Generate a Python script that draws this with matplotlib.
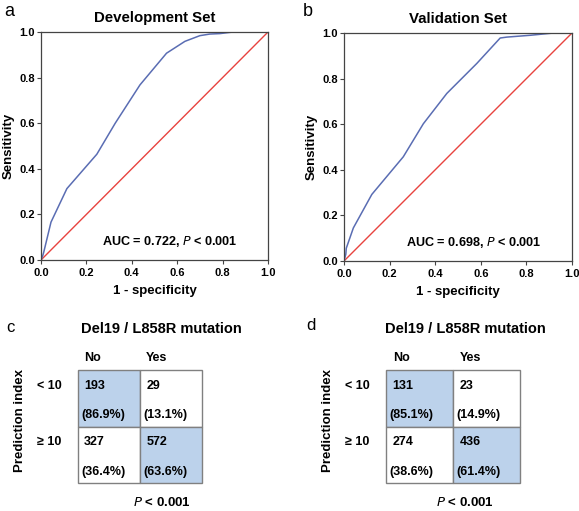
import matplotlib
matplotlib.use("Agg")
import matplotlib.pyplot as plt
import numpy as np

plt.rcParams['font.family'] = ['Liberation Sans', 'DejaVu Sans']

# ROC data (1 - specificity, sensitivity)
dev_fpr = [0.0, 0.008, 0.012, 0.044, 0.114, 0.246, 0.327, 0.436, 0.553, 0.634, 0.70, 0.744, 0.788, 0.846, 1.0]
dev_tpr = [0.0, 0.02, 0.034, 0.166, 0.313, 0.464, 0.600, 0.768, 0.907, 0.959, 0.984, 0.991, 0.993, 1.0, 1.0]
val_fpr = [0.0, 0.008, 0.010, 0.041, 0.122, 0.260, 0.348, 0.451, 0.583, 0.685, 0.714, 0.817, 0.919, 1.0]
val_tpr = [0.0, 0.03, 0.056, 0.145, 0.292, 0.457, 0.602, 0.735, 0.867, 0.978, 0.982, 0.990, 1.0, 1.0]
roc_titles = ["Development Set", "Validation Set"]
auc_texts = ["AUC = 0.722, $\\bf{\\it{P}}$ < 0.001", "AUC = 0.698, $\\bf{\\it{P}}$ < 0.001"]
ticks = [0.0, 0.2, 0.4, 0.6, 0.8, 1.0]
tick_labels = ["0.0", "0.2", "0.4", "0.6", "0.8", "1.0"]

# Contingency tables
col_labels = ["No", "Yes"]
row_labels = ["< 10", "\u2265 10"]
dev_counts = [[193, 29], [327, 572]]
dev_pcts = ["(86.9%)", "(13.1%)", "(36.4%)", "(63.6%)"]
val_counts = [[131, 23], [274, 436]]
val_pcts = ["(85.1%)", "(14.9%)", "(38.6%)", "(61.4%)"]
highlight = [[1, 0], [0, 1]]

W, H = 579, 511
fig = plt.figure(figsize=(W / 100, H / 100), dpi=100)

def fbox(l, t, r, b):
    return [l / W, 1 - b / H, (r - l) / W, (b - t) / H]

blue = "#5a6db3"
red = "#e8433f"
spine_col = "#444444"

roc_boxes = [(41, 32, 268, 260), (344, 33, 572, 261)]
letters_roc = [("a", 4, 12), ("b", 303, 12)]
for i, (fpr, tpr) in enumerate([(dev_fpr, dev_tpr), (val_fpr, val_tpr)]):
    ax = fig.add_axes(fbox(*roc_boxes[i]))
    ax.plot([0, 1], [0, 1], color=red, lw=1.0)
    ax.plot(fpr, tpr, color=blue, lw=1.1)
    ax.set_xlim(0, 1)
    ax.set_ylim(0, 1)
    ax.set_xticks(ticks)
    ax.set_yticks(ticks)
    ax.set_xticklabels(tick_labels, fontsize=8, fontweight='bold')
    ax.set_yticklabels(tick_labels, fontsize=8, fontweight='bold')
    ax.tick_params(axis='x', length=3, width=0.8, color=spine_col, pad=2.5)
    ax.tick_params(axis='y', length=3, width=0.8, color=spine_col, pad=1.5)
    for s in ax.spines.values():
        s.set_color(spine_col)
        s.set_linewidth(0.9)
    ax.set_xlabel("1 - specificity", fontsize=9.5, fontweight='bold', labelpad=5)
    ax.set_ylabel("Sensitivity", fontsize=9.5, fontweight='bold', labelpad=3)
    ax.set_title(roc_titles[i], fontsize=10.8, fontweight='bold', pad=7)
    ax.text(0.865, 0.08, auc_texts[i], transform=ax.transAxes, ha='right', va='center',
            fontsize=9.1, fontweight='bold')
    l, x, y = letters_roc[i]
    fig.text(x / W, 1 - y / H, l, fontsize=13, ha='left', va='center')

fill_col = "#bcd2eb"
border = "#808080"
tab_boxes = [(78, 370, 202, 483), (386, 370, 520, 483)]
letters_tab = [("c", 6, 327), ("d", 306, 325)]
for i, (counts, pcts) in enumerate([(dev_counts, dev_pcts), (val_counts, val_pcts)]):
    ax = fig.add_axes(fbox(*tab_boxes[i]))
    ax.set_xlim(0, 2)
    ax.set_ylim(2, 0)
    ax.axis('off')
    bw = tab_boxes[i][2] - tab_boxes[i][0]
    colors = np.array([[fill_col if h else "white" for h in row] for row in highlight])
    for r in range(2):
        for c in range(2):
            ax.add_patch(plt.Rectangle((c, r), 1, 1, facecolor=colors[r, c], edgecolor=border,
                                       lw=1.0, clip_on=False))
            ax.text(c + 0.1, r + 0.28, str(counts[r][c]), fontsize=9, fontweight='bold',
                    ha='left', va='center')
            ax.text(c + 0.05, r + 0.8, pcts[2 * r + c], fontsize=9, fontweight='bold',
                    ha='left', va='center')
    for c in range(2):
        ax.text(c + 0.1, -0.22, col_labels[c], fontsize=9, fontweight='bold',
                ha='left', va='center')
    for r in range(2):
        ax.text(-0.27 * 124 / bw, r + 0.28, row_labels[r], fontsize=9, fontweight='bold',
                ha='right', va='center')
    ax.text(-0.93 * 124 / bw, 0.9, "Prediction index", rotation=90, fontsize=9.5, fontweight='bold',
            ha='center', va='center')
    ax.text(1.35 * 124 / bw if i == 0 else 1.18, -0.72, "Del19 / L858R mutation", fontsize=10.5,
            fontweight='bold', ha='center', va='center')
    ax.text(1.35 * 124 / bw if i == 0 else 1.18, 2.35, "$\\bf{\\it{P}}$ < 0.001", fontsize=9.5,
            fontweight='bold', ha='center', va='center')
    l, x, y = letters_tab[i]
    fig.text(x / W, 1 - y / H, l, fontsize=12, ha='left', va='center')

fig.savefig("out.png", dpi=100)
